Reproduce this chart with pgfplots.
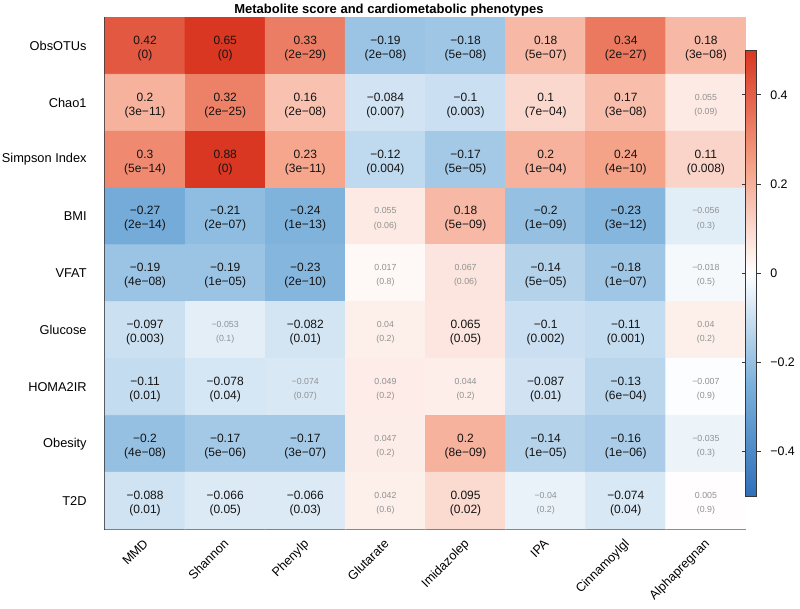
\documentclass[border=0pt]{standalone}
\usepackage{pgfplots}
\pgfplotsset{compat=1.18}
\usepackage{pgfplotstable}
\usepackage{fontspec}
\setmainfont{Liberation Sans}
\definecolor{txtc}{RGB}{20,20,20}
\definecolor{nsc}{RGB}{145,145,145}
\definecolor{framec}{RGB}{55,55,55}

% heat values: column index x, row index y, correlation v
\pgfplotstableread{
x y v
0 0 0.42
1 0 0.65
2 0 0.33
3 0 -0.19
4 0 -0.18
5 0 0.18
6 0 0.34
7 0 0.18
0 1 0.2
1 1 0.32
2 1 0.16
3 1 -0.084
4 1 -0.1
5 1 0.1
6 1 0.17
7 1 0.055
0 2 0.3
1 2 0.88
2 2 0.23
3 2 -0.12
4 2 -0.17
5 2 0.2
6 2 0.24
7 2 0.11
0 3 -0.27
1 3 -0.21
2 3 -0.24
3 3 0.055
4 3 0.18
5 3 -0.2
6 3 -0.23
7 3 -0.056
0 4 -0.19
1 4 -0.19
2 4 -0.23
3 4 0.017
4 4 0.067
5 4 -0.14
6 4 -0.18
7 4 -0.018
0 5 -0.097
1 5 -0.053
2 5 -0.082
3 5 0.04
4 5 0.065
5 5 -0.1
6 5 -0.11
7 5 0.04
0 6 -0.11
1 6 -0.078
2 6 -0.074
3 6 0.049
4 6 0.044
5 6 -0.087
6 6 -0.13
7 6 -0.007
0 7 -0.2
1 7 -0.17
2 7 -0.17
3 7 0.047
4 7 0.2
5 7 -0.14
6 7 -0.16
7 7 -0.035
0 8 -0.088
1 8 -0.066
2 8 -0.066
3 8 0.042
4 8 0.095
5 8 -0.04
6 8 -0.074
7 8 0.005
}\hm

% significant cells: labels
\pgfplotstableread{
x y vs ps
0 0 0.42 (0)
1 0 0.65 (0)
2 0 0.33 (2e−29)
3 0 −0.19 (2e−08)
4 0 −0.18 (5e−08)
5 0 0.18 (5e−07)
6 0 0.34 (2e−27)
7 0 0.18 (3e−08)
0 1 0.2 (3e−11)
1 1 0.32 (2e−25)
2 1 0.16 (2e−08)
3 1 −0.084 (0.007)
4 1 −0.1 (0.003)
5 1 0.1 (7e−04)
6 1 0.17 (3e−08)
0 2 0.3 (5e−14)
1 2 0.88 (0)
2 2 0.23 (3e−11)
3 2 −0.12 (0.004)
4 2 −0.17 (5e−05)
5 2 0.2 (1e−04)
6 2 0.24 (4e−10)
7 2 0.11 (0.008)
0 3 −0.27 (2e−14)
1 3 −0.21 (2e−07)
2 3 −0.24 (1e−13)
4 3 0.18 (5e−09)
5 3 −0.2 (1e−09)
6 3 −0.23 (3e−12)
0 4 −0.19 (4e−08)
1 4 −0.19 (1e−05)
2 4 −0.23 (2e−10)
5 4 −0.14 (5e−05)
6 4 −0.18 (1e−07)
0 5 −0.097 (0.003)
2 5 −0.082 (0.01)
4 5 0.065 (0.05)
5 5 −0.1 (0.002)
6 5 −0.11 (0.001)
0 6 −0.11 (0.01)
1 6 −0.078 (0.04)
5 6 −0.087 (0.01)
6 6 −0.13 (6e−04)
0 7 −0.2 (4e−08)
1 7 −0.17 (5e−06)
2 7 −0.17 (3e−07)
4 7 0.2 (8e−09)
5 7 −0.14 (1e−05)
6 7 −0.16 (1e−06)
0 8 −0.088 (0.01)
1 8 −0.066 (0.05)
2 8 −0.066 (0.03)
4 8 0.095 (0.02)
6 8 −0.074 (0.04)
}\sig

% non-significant cells: labels
\pgfplotstableread{
x y vs ps
7 1 0.055 (0.09)
3 3 0.055 (0.06)
7 3 −0.056 (0.3)
3 4 0.017 (0.8)
4 4 0.067 (0.06)
7 4 −0.018 (0.5)
1 5 −0.053 (0.1)
3 5 0.04 (0.2)
7 5 0.04 (0.2)
2 6 −0.074 (0.07)
3 6 0.049 (0.2)
4 6 0.044 (0.2)
7 6 −0.007 (0.9)
3 7 0.047 (0.2)
7 7 −0.035 (0.3)
3 8 0.042 (0.6)
5 8 −0.04 (0.2)
7 8 0.005 (0.9)
}\nsig

\begin{document}
\begin{tikzpicture}
\useasboundingbox (0,0) rectangle (400pt,-304.5pt);
\begin{axis}[
  at={(52.5pt,-8.75pt)}, anchor=north west,
  scale only axis, width=320.5pt, height=255.75pt,
  xmin=-0.5, xmax=7.5, ymin=-0.5, ymax=8.5, y dir=reverse,
  axis line style={draw=framec, line width=0.5pt},
  xtick={0,...,7}, ytick={0,...,8},
  major tick length=0pt,
  xticklabels={MMD,Shannon,Phenylp,Glutarate,Imidazolep,IPA,Cinnamoylgl,Alphapregnan},
  yticklabels={ObsOTUs,Chao1,Simpson Index,BMI,VFAT,Glucose,HOMA2IR,Obesity,T2D},
  xticklabel style={font=\fontsize{6.3}{7}\selectfont, rotate=45, anchor=north east, inner sep=0pt, xshift=-4pt, yshift=-2.3pt},
  yticklabel style={font=\fontsize{6.4}{7}\selectfont, anchor=east, inner sep=0pt, xshift=-9pt},
  every axis title shift=0pt,
  title={Metabolite score and cardiometabolic phenotypes},
  title style={font=\fontsize{6.5}{7}\selectfont\bfseries, at={(0.443,1)}, anchor=base, yshift=1.9pt, inner sep=0pt},
  colormap={rdbu}{rgb255(0)=(48,112,185) rgb255(1)=(122,176,219) rgb255(2)=(255,255,255) rgb255(3)=(244,158,131) rgb255(4)=(217,55,34)},
  point meta min=-0.5, point meta max=0.5,
  colorbar,
  colorbar style={
    at={(1,0.5)}, anchor=west, xshift=3pt,
    width=5.5pt, height=223pt,
    axis line style={draw=framec, line width=0.5pt},
    ytick={-0.4,-0.2,0,0.2,0.4},
    yticklabels={−0.4,−0.2,0,0.2,0.4},
    yticklabel style={font=\fontsize{6.2}{7}\selectfont, inner sep=0pt, xshift=4.5pt},
    major tick length=2pt, tick align=outside,
    tick style={draw=framec, line width=0.4pt},
  },
]
\addplot[matrix plot*, mesh/cols=8, point meta=explicit, shader=flat corner] table[x=x, y=y, meta=v] {\hm};
% significant labels
\addplot[draw=none, mark=none, point meta=explicit symbolic, nodes near coords,
  every node near coord/.append style={anchor=center, yshift=2.8pt, inner sep=0pt, text=txtc, font=\fontsize{6}{7}\selectfont}
] table[x=x, y=y, meta=vs] {\sig};
\addplot[draw=none, mark=none, point meta=explicit symbolic, nodes near coords,
  every node near coord/.append style={anchor=center, yshift=-4.7pt, inner sep=0pt, text=txtc, font=\fontsize{6}{7}\selectfont}
] table[x=x, y=y, meta=ps] {\sig};
% non-significant labels
\addplot[draw=none, mark=none, point meta=explicit symbolic, nodes near coords,
  every node near coord/.append style={anchor=center, yshift=2.8pt, inner sep=0pt, text=nsc, font=\fontsize{4.4}{5}\selectfont}
] table[x=x, y=y, meta=vs] {\nsig};
\addplot[draw=none, mark=none, point meta=explicit symbolic, nodes near coords,
  every node near coord/.append style={anchor=center, yshift=-4.7pt, inner sep=0pt, text=nsc, font=\fontsize{4.4}{5}\selectfont}
] table[x=x, y=y, meta=ps] {\nsig};
\end{axis}
\end{tikzpicture}
\end{document}
